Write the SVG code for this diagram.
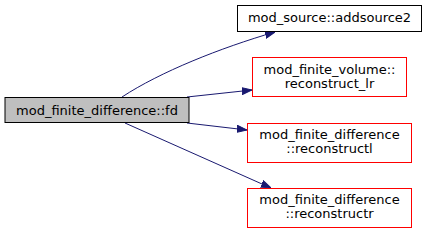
<svg xmlns="http://www.w3.org/2000/svg" width="427" height="234" viewBox="0 0 427 234">
<style>
text{font-family:"DejaVu Sans",sans-serif;font-size:13px;text-anchor:middle;fill:#000}
.n{fill:#fff;stroke:#000;stroke-width:1}
.r{fill:#fff;stroke:#ff0000;stroke-width:1}
.g{fill:#bfbfbf;stroke:#000;stroke-width:1}
.e{fill:none;stroke:#191970;stroke-width:1}
</style>
<defs>
<marker id="a" markerWidth="10" markerHeight="8" refX="10" refY="4" orient="auto" markerUnits="userSpaceOnUse">
<path d="M0,0.5 L10,4 L0,7.5 Z" fill="#191970" stroke="#191970"/>
</marker>
</defs>
<rect width="427" height="234" fill="#fff"/>
<g id="edges">
<path class="e" d="M122,97 C160,72 220,48 275,32" marker-end="url(#a)"/>
<path class="e" d="M187,97 L252,90" marker-end="url(#a)"/>
<path class="e" d="M187,123 L247,130" marker-end="url(#a)"/>
<path class="e" d="M125,123 L271,188" marker-end="url(#a)"/>
</g>
<g id="fd">
<rect class="g" x="5" y="97.5" width="184" height="25"/>
<text x="97" y="114.5">mod_finite_difference::fd</text>
</g>
<g id="addsource2">
<rect class="n" x="237.5" y="5.5" width="184" height="26"/>
<text x="329.5" y="22">mod_source::addsource2</text>
</g>
<g id="reconstruct_lr">
<rect class="r" x="252.5" y="57.5" width="154" height="39"/>
<text x="329.5" y="73.5">mod_finite_volume::</text>
<text x="329.5" y="87.5">reconstruct_lr</text>
</g>
<g id="reconstructl">
<rect class="r" x="247.5" y="123.5" width="164" height="39"/>
<text x="329.5" y="139">mod_finite_difference</text>
<text x="329.5" y="153">::reconstructl</text>
</g>
<g id="reconstructr">
<rect class="r" x="247.5" y="188.5" width="164" height="39"/>
<text x="329.5" y="204">mod_finite_difference</text>
<text x="329.5" y="218">::reconstructr</text>
</g>
</svg>
